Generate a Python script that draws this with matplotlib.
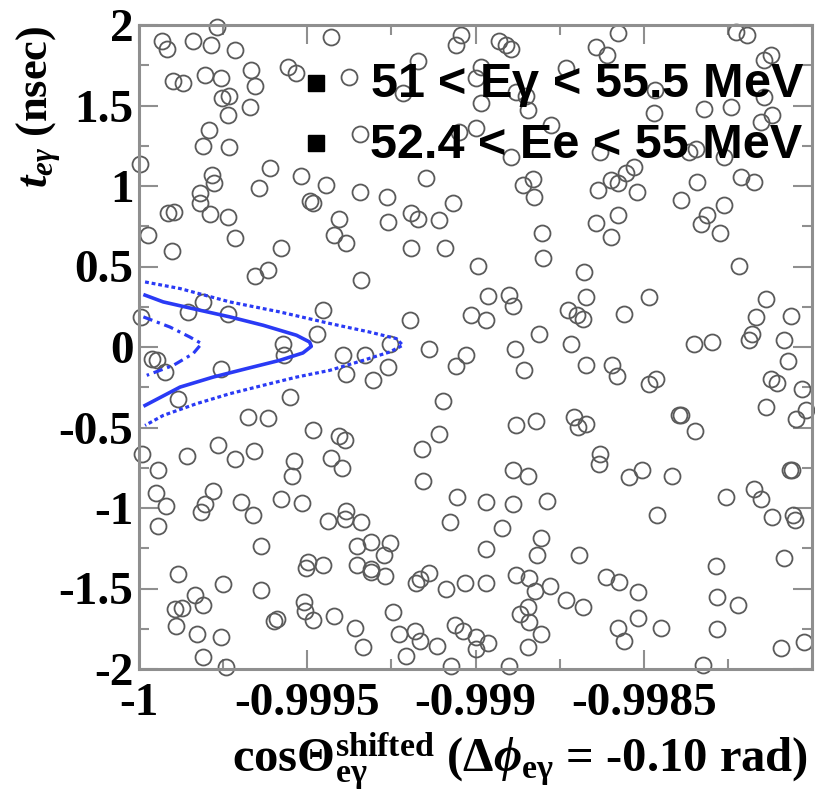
import matplotlib
matplotlib.use("Agg")
import matplotlib.pyplot as plt
from matplotlib.ticker import MultipleLocator

plt.rcParams['font.family'] = ['Liberation Serif', 'DejaVu Serif']
plt.rcParams['font.weight'] = 'bold'
plt.rcParams['mathtext.fontset'] = 'custom'
plt.rcParams['mathtext.rm'] = 'Liberation Serif:bold'
plt.rcParams['mathtext.bf'] = 'Liberation Serif:bold'
plt.rcParams['mathtext.it'] = 'Liberation Serif:italic:bold'

# accidental background events: cos(theta_e-gamma) shifted, t_e-gamma (nsec)
cos_theta = [
    -0.999769, -0.999931, -0.999918, -0.999839, -0.999786, -0.999715, -0.999428, -0.999666, -0.999557, -0.999532,
    -0.999898, -0.999869, -0.999804, -0.999757, -0.999654, -0.999377, -0.999753, -0.999733, -0.999735, -0.999669,
    -0.999792, -0.999809, -0.999732, -0.999344, -0.999997, -0.999611, -0.999520, -0.999783, -0.999777, -0.999819,
    -0.999819, -0.999644, -0.999443, -0.999344, -0.999493, -0.999483, -0.999915, -0.999895, -0.999789, -0.999735,
    -0.999407, -0.999421, -0.999384, -0.999974, -0.999715, -0.999903, -0.999579, -0.999654, -0.999618, -0.999339,
    -0.999809, -0.999854, -0.999735, -0.999994, -0.999453, -0.999470, -0.999572,
    -0.999057, -0.999043, -0.998929, -0.998909, -0.998894, -0.999171, -0.999214, -0.999000, -0.998983, -0.998879,
    -0.998850, -0.998845, -0.998731, -0.998983, -0.998998, -0.999048, -0.998894, -0.998776, -0.999146, -0.999263,
    -0.998860, -0.998830, -0.998825, -0.999191, -0.999171, -0.999260, -0.999107, -0.999067, -0.999191, -0.999092,
    -0.998802, -0.998800, -0.998993, -0.998964, -0.998899, -0.998889, -0.999013, -0.998970, -0.999196, -0.998677,
    -0.998672, -0.998726, -0.998697, -0.998682, -0.998810, -0.999255, -0.998716,
    -0.998578, -0.998642, -0.998608, -0.998227, -0.998192, -0.998143, -0.998123, -0.998466, -0.998469, -0.998321,
    -0.998241, -0.998143, -0.998152, -0.998118, -0.998365, -0.998344, -0.998261, -0.998629, -0.998637, -0.998598,
    -0.998578, -0.998553, -0.998528, -0.998519, -0.998341, -0.998212, -0.998172, -0.998390, -0.998642, -0.998578,
    -0.998598, -0.998330, -0.998311, -0.998263, -0.998273, -0.998217, -0.998484, -0.998560, -0.998138, -0.998167,
    -0.998063, -0.998177, -0.998187, -0.998083, -0.998350, -0.998296,
    -0.999962, -0.999947, -0.999923, -0.999569, -0.999757, -0.999883, -0.999552, -0.999394, -0.999329, -0.999384,
    -0.999677, -0.999618, -0.999483, -0.999407, -0.999389, -0.999992, -0.999858, -0.999765, -0.999715, -0.999658,
    -0.999539, -0.999544, -0.999430, -0.999397, -0.999943, -0.999950, -0.999921, -0.999780, -0.999804, -0.999816,
    -0.999697, -0.999661, -0.999579, -0.999517, -0.999945, -0.999438, -0.999384, -0.999387, -0.999339, -0.999636,
    -0.999351, -0.999499, -0.999504, -0.999453, -0.999351, -0.999883, -0.999750, -0.999638, -0.999834, -0.999809,
    -0.999893, -0.999872, -0.999891, -0.999510, -0.999507, -0.999483, -0.999599, -0.999591, -0.999421, -0.999359,
    -0.999829, -0.999755, -0.999809, -0.999740, -0.999334,
    -0.999260, -0.999305, -0.999137, -0.999028, -0.999057, -0.998884, -0.998855, -0.998672, -0.999097, -0.999109,
    -0.999158, -0.998879, -0.998820, -0.998706, -0.998694, -0.998672, -0.999156, -0.998889, -0.998845, -0.999056,
    -0.998968, -0.998889, -0.998789, -0.999077, -0.998921, -0.999310, -0.999255, -0.999273, -0.998970, -0.998805,
    -0.998817, -0.998692, -0.999310, -0.999310, -0.999270, -0.999137, -0.999166, -0.999176, -0.999089, -0.999030,
    -0.998970, -0.998881, -0.998840, -0.998822, -0.998778, -0.998731, -0.998680, -0.999245, -0.998845, -0.998867,
    -0.998840, -0.999181, -0.999226, -0.999166, -0.999062, -0.999038, -0.999000, -0.998964, -0.998998, -0.998805,
    -0.998845, -0.999114, -0.999206, -0.999072, -0.998899,
    -0.998593, -0.998580, -0.998484, -0.998464, -0.998071, -0.998123, -0.998103, -0.998029, -0.998138, -0.998019,
    -0.998049, -0.998395, -0.998390, -0.998347, -0.998629, -0.998632, -0.998543, -0.998504, -0.998415, -0.998066,
    -0.998059, -0.998256, -0.998172, -0.998152, -0.998118, -0.998056, -0.998052, -0.998461, -0.998083, -0.998286,
    -0.998612, -0.998573, -0.998517, -0.998283, -0.998220, -0.998517, -0.998578, -0.998560, -0.998449, -0.998281,
    -0.998093, -0.998024, -0.998323,
]
t_egamma = [
    1.986, 1.903, 1.850, 1.903, 1.876, 1.845, 1.924, 1.721, 1.741, 1.704,
    1.654, 1.638, 1.690, 1.669, 1.623, 1.675, 1.545, 1.559, 1.441, 1.493,
    1.348, 1.248, 1.240, 1.321, 1.136, 1.109, 1.063, 1.068, 1.016, 0.958,
    0.892, 0.985, 1.006, 0.960, 0.906, 0.892, 0.830, 0.836, 0.825, 0.808,
    0.792, 0.695, 0.647, 0.695, 0.680, 0.597, 0.616, 0.440, 0.481, 0.415,
    0.280, 0.218, 0.208, 0.187, 0.228, 0.083, 0.017,
    1.876, 1.938, 1.903, 1.876, 1.850, 1.779, 1.576, 1.671, 1.741, 1.586,
    1.559, 1.472, 1.731, 1.514, 1.358, 1.337, 1.182, 1.379, 1.047, 0.933,
    1.006, 1.041, 0.933, 0.833, 0.792, 0.777, 0.788, 0.896, 0.612, 0.612,
    0.709, 0.550, 0.502, 0.315, 0.322, 0.253, 0.197, 0.170, 0.166, 0.466,
    0.311, 0.228, 0.197, 0.177, 0.083, 0.021, 0.021,
    1.949, 1.866, 1.814, 1.959, 1.938, 1.783, 1.814, 1.596, 1.451, 1.476,
    1.489, 1.555, 1.399, 1.441, 1.211, 1.229, 1.182, 1.211, 0.975, 1.037,
    1.016, 1.078, 1.119, 0.964, 1.022, 1.057, 1.022, 0.912, 0.771, 0.819,
    0.684, 0.767, 0.819, 0.881, 0.705, 0.502, 0.311, 0.203, 0.301, 0.187,
    0.191, 0.083, 0.042, 0.042, 0.021, 0.031,
    -0.072, -0.083, -0.155, -0.052, -0.134, -0.325, -0.311, -0.047, -0.052, -0.165,
    -0.435, -0.442, -0.518, -0.553, -0.580, -0.663, -0.678, -0.611, -0.694, -0.649,
    -0.711, -0.802, -0.690, -0.752, -0.761, -0.905, -0.989, -0.896, -0.974, -1.026,
    -0.964, -1.042, -0.943, -0.968, -1.109, -1.078, -1.016, -1.067, -1.088, -1.239,
    -1.233, -1.337, -1.374, -1.353, -1.353, -1.409, -1.474, -1.509, -1.540, -1.602,
    -1.627, -1.623, -1.731, -1.581, -1.637, -1.693, -1.700, -1.689, -1.669, -1.748,
    -1.782, -1.799, -1.928, -1.990, -1.866,
    -0.124, -0.207, -0.014, -0.047, -0.118, -0.010, -0.145, -0.114, -0.338, -0.539,
    -0.636, -0.487, -0.462, -0.435, -0.498, -0.476, -0.835, -0.767, -0.802, -0.933,
    -0.960, -0.974, -0.958, -1.088, -1.126, -1.213, -1.216, -1.289, -1.254, -1.188,
    -1.291, -1.291, -1.378, -1.395, -1.420, -1.405, -1.440, -1.465, -1.502, -1.465,
    -1.465, -1.415, -1.434, -1.513, -1.482, -1.569, -1.617, -1.644, -1.617, -1.658,
    -1.706, -1.762, -1.782, -1.828, -1.726, -1.762, -1.803, -1.841, -1.876, -1.782,
    -1.866, -1.855, -1.922, -1.979, -1.979,
    -0.114, -0.180, -0.228, -0.197, -0.089, -0.197, -0.221, -0.259, -0.373, -0.394,
    -0.445, -0.420, -0.425, -0.524, -0.663, -0.725, -0.808, -0.761, -0.802, -0.767,
    -0.761, -0.933, -0.885, -0.947, -1.057, -1.042, -1.072, -1.042, -1.310, -1.362,
    -1.430, -1.457, -1.524, -1.555, -1.602, -1.685, -1.748, -1.824, -1.748, -1.751,
    -1.872, -1.835, -1.975,
]

# signal PDF contours
outer_cos = [-0.999982, -0.999878, -0.999730, -0.999582, -0.999433, -0.999315, -0.999235, -0.999216,
             -0.999255, -0.999334, -0.999433, -0.999532, -0.999631, -0.999730, -0.999829, -0.999928, -0.999982]
outer_t = [0.404, 0.363, 0.280, 0.218, 0.146, 0.093, 0.052, 0.011,
           -0.031, -0.083, -0.145, -0.187, -0.238, -0.290, -0.352, -0.425, -0.487]
mid_cos = [-0.999982, -0.999928, -0.999829, -0.999730, -0.999631, -0.999532, -0.999493, -0.999488,
           -0.999513, -0.999582, -0.999680, -0.999780, -0.999878, -0.999982]
mid_t = [0.322, 0.280, 0.233, 0.187, 0.135, 0.073, 0.031, 0.004,
         -0.037, -0.083, -0.134, -0.187, -0.249, -0.363]
inner_cos = [-0.999987, -0.999908, -0.999849, -0.999814, -0.999839, -0.999898, -0.999977]
inner_t = [0.187, 0.124, 0.062, 0.021, -0.041, -0.114, -0.176]

cut_labels = [r"51 < E$\mathregular{\gamma}$ < 55.5 MeV", "52.4 < Ee < 55 MeV"]
x_ticks = [-1, -0.9995, -0.999, -0.9985]
x_ticklabels = ["-1", "-0.9995", "-0.999", "-0.9985"]
y_ticks = [-2, -1.5, -1, -0.5, 0, 0.5, 1, 1.5, 2]
y_ticklabels = ["-2", "-1.5", "-1", "-0.5", "0", "0.5", "1", "1.5", "2"]

blue = '#2a3af5'
frame = '#8f8f8f'

fig = plt.figure(figsize=(8.15, 7.92), dpi=100)
ax = fig.add_axes([139 / 815, 1 - 669 / 792, 673 / 815, 644 / 792])

ax.plot(cos_theta, t_egamma, ls='none', marker='o', ms=11.5, mfc='none',
        mec='#5a5a5a', mew=1.3, clip_on=False, zorder=2)

ax.plot(outer_cos, outer_t, color=blue, lw=2.3, ls=(0, (1.2, 0.9)), zorder=3)
ax.plot(mid_cos, mid_t, color=blue, lw=2.6, zorder=3)
ax.plot(inner_cos, inner_t, color=blue, lw=2.3, ls=(0, (3, 1.5, 1, 1.5)), zorder=3)

ax.set_xlim(-1, -0.998)
ax.set_ylim(-2, 2)
ax.set_xticks(x_ticks)
ax.set_xticklabels(x_ticklabels)
ax.set_yticks(y_ticks)
ax.set_yticklabels(y_ticklabels)
ax.xaxis.set_minor_locator(MultipleLocator(0.00025))
ax.yaxis.set_minor_locator(MultipleLocator(0.25))

ax.tick_params(which='both', direction='in', top=True, right=True,
               color=frame, width=1.5, labelsize=34)
ax.tick_params(which='major', length=14)
ax.tick_params(which='minor', length=7)
ax.tick_params(axis='x', pad=10)
ax.tick_params(axis='y', pad=4)
for sp in ax.spines.values():
    sp.set_color(frame)
    sp.set_linewidth(2.2)

# selection cuts drawn as a marker list
for i, lab in enumerate(cut_labels):
    yy = [0.910, 0.817][i]
    ax.plot([0.263], [yy], ls='none', marker='s', ms=12, color='black',
            transform=ax.transAxes, clip_on=False, zorder=5)
    ax.text(0.343, [0.8887, 0.793][i], lab, transform=ax.transAxes,
            family=['Liberation Sans', 'DejaVu Sans'], fontweight='bold',
            fontsize=35, ha='left', va='baseline', zorder=5)

fig.text(0.047, 1 - 26 / 792, r"$t_{e\gamma}$ (nsec)", rotation=90,
         ha='center', va='top', fontsize=32)
fig.text(0.992, 1 - 772 / 792,
         r"cos$\Theta^{\mathrm{shifted}}_{\mathrm{e\gamma}}$ ($\Delta\phi_{\mathrm{e\gamma}}$ = -0.10 rad)",
         ha='right', va='baseline', fontsize=35)

fig.savefig('out.png', dpi=100)
